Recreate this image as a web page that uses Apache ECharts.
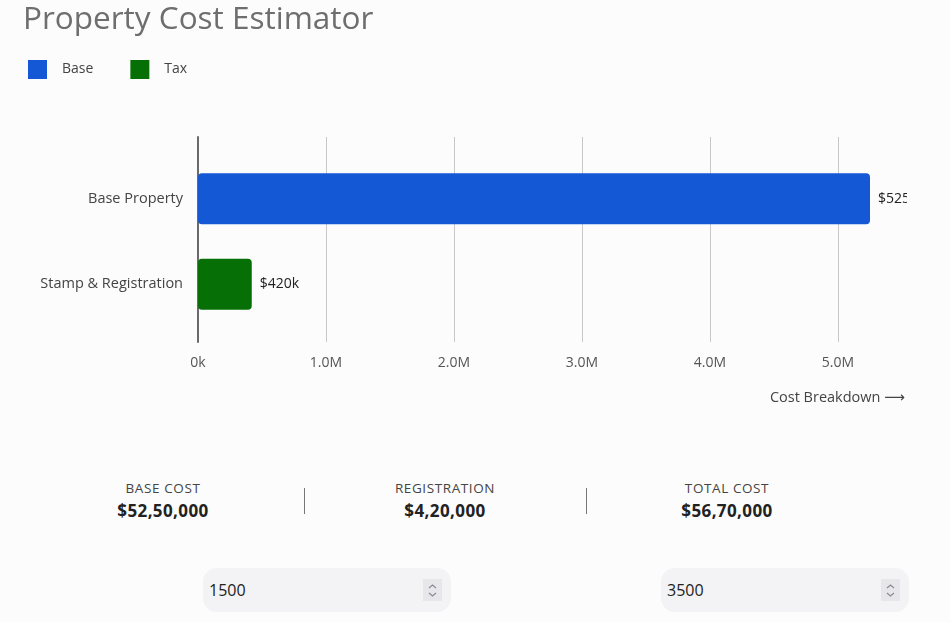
<!DOCTYPE html>
<html>
<head>
<meta charset="utf-8">
<script src="https://cdn.jsdelivr.net/npm/echarts@6/dist/echarts.min.js"></script>
<style>
  html, body { margin: 0; padding: 0; background: #fcfcfc; width: 950px; height: 622px; overflow: hidden; font-family: "Open Sans", Roboto, sans-serif; }
  #clip { position: absolute; left: 0; top: 0; width: 907px; height: 420px; overflow: hidden; }
  #chart { position: absolute; left: 0; top: 0; width: 1000px; height: 420px; }
  .stats { position: absolute; left: 22px; top: 478px; width: 846px; height: 44px; display: flex; }
  .stat { width: 282px; text-align: center; position: relative; }
  .stat + .stat::before { content: ""; position: absolute; left: 0; top: 10px; height: 26px; border-left: 1px solid #777; }
  .stat .lbl { font-size: 13.5px; color: #444; letter-spacing: 0.6px; line-height: 20px; }
  .stat .val { font-size: 17px; font-weight: 700; color: #222; line-height: 23px; margin-top: 1px; letter-spacing: 0.4px; }
  .inp { position: absolute; top: 568px; width: 248px; height: 44px; border-radius: 14px; background: #f3f2f4; }
  .inp .txt { position: absolute; left: 6px; top: 11px; font-size: 16px; color: #222; }
  .inp .spin { position: absolute; right: 9px; top: 11px; width: 19px; height: 22px; background: #e7e6ea; }
  .inp .spin svg { display: block; }
</style>
</head>
<body>
<div id="clip"><div id="chart"></div></div>
<div class="stats" id="stats"></div>
<div id="inputs"></div>
<script>
const categories = ['Base Property', 'Stamp & Registration'];
const seriesNames = ['Base', 'Tax'];
const baseValues = [5250000, null];
const taxValues = [null, 420000];
const xTickValues = [0, 1000000, 2000000, 3000000, 4000000, 5000000, 6000000];
const statLabels = ['BASE COST', 'REGISTRATION', 'TOTAL COST'];
const statValues = [5250000, 420000, 5670000];
const inputValues = [1500, 3500];

function indianFormat(n) {
  const s = String(Math.round(n));
  if (s.length <= 3) return s;
  const last3 = s.slice(-3);
  let rest = s.slice(0, -3);
  const parts = [];
  while (rest.length > 2) { parts.unshift(rest.slice(-2)); rest = rest.slice(0, -2); }
  if (rest.length) parts.unshift(rest);
  return parts.join(',') + ',' + last3;
}

const statsEl = document.getElementById('stats');
statLabels.forEach((l, i) => {
  const d = document.createElement('div');
  d.className = 'stat';
  d.innerHTML = '<div class="lbl">' + l + '</div><div class="val">$' + indianFormat(statValues[i]) + '</div>';
  statsEl.appendChild(d);
});
const inputLefts = [203, 661];
const inputsEl = document.getElementById('inputs');
inputValues.forEach((v, i) => {
  const d = document.createElement('div');
  d.className = 'inp';
  d.style.left = inputLefts[i] + 'px';
  d.innerHTML = '<div class="txt">' + v + '</div><div class="spin"><svg width="19" height="22"><polyline points="6,9 9.5,6 13,9" fill="none" stroke="#8a8a90" stroke-width="1.2"/><polyline points="6,14 9.5,17 13,14" fill="none" stroke="#8a8a90" stroke-width="1.2"/></svg></div>';
  inputsEl.appendChild(d);
});

const xMax = xTickValues[xTickValues.length - 1];
const chart = echarts.init(document.getElementById('chart'), null, { renderer: 'canvas' });
const font = 'Open Sans';
chart.setOption({
  backgroundColor: '#fcfcfc',
  animation: false,
  textStyle: { fontFamily: font },
  title: [
    { text: 'Property Cost Estimator', left: 18, top: -1,
      textStyle: { fontFamily: font, fontSize: 31.5, fontWeight: 400, color: '#6e6e6e' } },
    { text: 'Cost Breakdown \u27F6', right: 90, top: 385,
      textStyle: { fontFamily: font + ', DejaVu Sans', fontSize: 14.5, fontWeight: 400, color: '#444' } }
  ],
  legend: {
    left: 23, top: 55, itemWidth: 19, itemHeight: 19, itemGap: 37, icon: 'rect',
    data: seriesNames,
    textStyle: { fontFamily: font, fontSize: 14, color: '#444', padding: [0, 0, 0, 10] }
  },
  grid: [
    { left: 198, top: 137, width: 768, height: 205, containLabel: false },
    { left: 198, top: 156, width: 768, height: 171, containLabel: false }
  ],
  xAxis: [
    { type: 'value', gridIndex: 0, min: 0, max: xMax, interval: 1000000,
      axisLine: { show: false }, axisTick: { show: false },
      splitLine: { show: true, lineStyle: { color: '#c8c8c8', width: 1 } },
      axisLabel: { margin: 14, fontSize: 14, color: '#555', fontFamily: font,
        formatter: v => v === 0 ? '0k' : (v / 1000000).toFixed(1) + 'M' } },
    { type: 'value', gridIndex: 1, min: 0, max: xMax, show: false }
  ],
  yAxis: [
    { type: 'value', gridIndex: 0, axisLine: { show: true, lineStyle: { color: '#6a6a6a', width: 2 } },
      axisLabel: { show: false }, axisTick: { show: false }, splitLine: { show: false } },
    { type: 'category', gridIndex: 1, data: categories, inverse: true,
      axisLine: { show: false }, axisTick: { show: false },
      axisLabel: { margin: 15, fontSize: 14.5, color: '#444', fontFamily: font } }
  ],
  series: [
    { name: seriesNames[0], type: 'bar', xAxisIndex: 1, yAxisIndex: 1, stack: 'c', data: baseValues,
      barWidth: 51, itemStyle: { color: '#1558d6', borderRadius: 4 },
      label: { show: true, position: 'right', distance: 8, fontSize: 14, color: '#222', fontFamily: font,
        formatter: p => '$' + (p.value / 1000) + 'k' } },
    { name: seriesNames[1], type: 'bar', xAxisIndex: 1, yAxisIndex: 1, stack: 'c', data: taxValues,
      barWidth: 51, itemStyle: { color: '#067006', borderRadius: 4 },
      label: { show: true, position: 'right', distance: 8, fontSize: 14, color: '#222', fontFamily: font,
        formatter: p => '$' + (p.value / 1000) + 'k' } }
  ]
});
</script>
</body>
</html>
